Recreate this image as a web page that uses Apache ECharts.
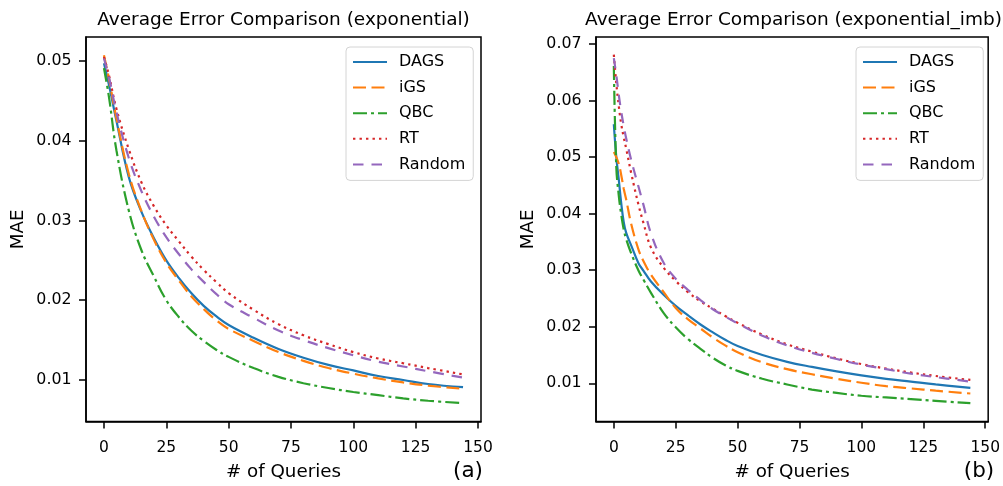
<!DOCTYPE html>
<html><head><meta charset="utf-8">
<script src="https://cdn.jsdelivr.net/npm/echarts@6/dist/echarts.min.js"></script>
<style>html,body{margin:0;padding:0;background:#fff}#c{width:1003px;height:486px}</style>
</head><body><div id="c"></div>
<script>
// ---------- data ----------
const seriesNames = ['DAGS', 'iGS', 'QBC', 'RT', 'Random'];
const titleA = 'Average Error Comparison (exponential)';
const titleB = 'Average Error Comparison (exponential_imb)';
const xTicks = [0, 25, 50, 75, 100, 125, 150];
const yTicksA = [0.01, 0.02, 0.03, 0.04, 0.05];
const yTicksB = [0.01, 0.02, 0.03, 0.04, 0.05, 0.06, 0.07];

const queriesA = [0, 2, 5, 10, 15, 20, 25, 30, 35, 40, 45, 50, 60, 70, 80, 90, 100, 110, 120, 130, 144];
const dagsA   = [0.0497, 0.0470, 0.0425, 0.0354, 0.0311, 0.0278, 0.0250, 0.0228, 0.0209, 0.0193, 0.0180, 0.0169, 0.0153, 0.0139, 0.0128, 0.0119, 0.0112, 0.0105, 0.0100, 0.0095, 0.0091];
const igsA    = [0.0507, 0.0478, 0.0428, 0.0358, 0.0312, 0.0276, 0.0247, 0.0225, 0.0205, 0.0189, 0.0175, 0.0164, 0.0149, 0.0135, 0.0124, 0.0115, 0.0108, 0.0102, 0.0097, 0.0093, 0.0089];
const qbcA    = [0.0491, 0.0455, 0.0388, 0.0312, 0.0263, 0.0230, 0.0200, 0.0179, 0.0162, 0.0149, 0.0138, 0.0129, 0.0115, 0.0104, 0.0096, 0.0090, 0.0085, 0.0081, 0.0077, 0.0074, 0.0071];
const rtA     = [0.0505, 0.0482, 0.0440, 0.0389, 0.0348, 0.0318, 0.0294, 0.0274, 0.0255, 0.0238, 0.0223, 0.0209, 0.0188, 0.0170, 0.0156, 0.0145, 0.0135, 0.0127, 0.0121, 0.0115, 0.0107];
const randomA = [0.0503, 0.0480, 0.0436, 0.0378, 0.0337, 0.0305, 0.0279, 0.0258, 0.0239, 0.0223, 0.0208, 0.0195, 0.0178, 0.0162, 0.0150, 0.0140, 0.0131, 0.0123, 0.0117, 0.0111, 0.0103];

const queriesB = [0, 1, 2, 3, 4, 5, 7, 10, 12, 15, 20, 25, 30, 35, 40, 45, 50, 60, 70, 80, 90, 100, 110, 120, 130, 144];
const dagsB   = [0.0558, 0.0500, 0.0460, 0.0418, 0.0385, 0.0366, 0.0344, 0.0312, 0.0299, 0.0280, 0.0257, 0.0237, 0.0220, 0.0204, 0.0190, 0.0177, 0.0166, 0.0150, 0.0138, 0.0129, 0.0121, 0.0114, 0.0108, 0.0103, 0.0098, 0.0092];
const igsB    = [0.0509, 0.0500, 0.0488, 0.0468, 0.0444, 0.0425, 0.0382, 0.0336, 0.0316, 0.0292, 0.0262, 0.0233, 0.0213, 0.0197, 0.0181, 0.0167, 0.0155, 0.0137, 0.0125, 0.0116, 0.0108, 0.0101, 0.0095, 0.0091, 0.0087, 0.0082];
const qbcB    = [0.0661, 0.0482, 0.0432, 0.0398, 0.0372, 0.0355, 0.0330, 0.0299, 0.0283, 0.0260, 0.0225, 0.0199, 0.0178, 0.0161, 0.0145, 0.0132, 0.0122, 0.0108, 0.0098, 0.0089, 0.0083, 0.0078, 0.0075, 0.0072, 0.0069, 0.0065];
const rtB     = [0.0681, 0.0630, 0.0590, 0.0558, 0.0535, 0.0515, 0.0472, 0.0415, 0.0383, 0.0340, 0.0305, 0.0281, 0.0261, 0.0245, 0.0232, 0.0219, 0.0207, 0.0186, 0.0169, 0.0156, 0.0144, 0.0134, 0.0126, 0.0119, 0.0113, 0.0106];
const randomB = [0.0675, 0.0645, 0.0610, 0.0580, 0.0555, 0.0533, 0.0495, 0.0447, 0.0415, 0.0365, 0.0314, 0.0285, 0.0265, 0.0247, 0.0231, 0.0218, 0.0206, 0.0184, 0.0167, 0.0154, 0.0143, 0.0133, 0.0125, 0.0117, 0.0111, 0.0103];

// ---------- styles ----------
const FONT = '"DejaVu Sans", "Noto Sans", sans-serif';
const styles = {
  DAGS:   { color: '#1f77b4', type: 'solid' },
  iGS:    { color: '#ff7f0e', type: [13, 5.5] },
  QBC:    { color: '#2ca02c', type: [14, 4, 3, 4] },
  RT:     { color: '#d62728', type: [2.4, 4.1] },
  Random: { color: '#9467bd', type: [10.5, 8] }
};

function pairs(xs, ys) { return xs.map((x, i) => [x, ys[i]]); }
function mkSeries(name, xs, ys, idx) {
  const s = styles[name];
  return {
    name, type: 'line', xAxisIndex: idx, yAxisIndex: idx,
    data: pairs(xs, ys), symbol: 'none', smooth: 0.4,
    lineStyle: { color: s.color, width: 2.2, type: s.type },
    itemStyle: { color: s.color },
    animation: false
  };
}

const axisLineStyle = { color: '#000', width: 1.5 };
function xAxis(idx) {
  return {
    type: 'value', gridIndex: idx, min: -7.2, max: 151.2, position: 'bottom',
    name: '# of Queries', nameLocation: 'middle', nameGap: 41.5,
    nameTextStyle: { fontFamily: FONT, fontSize: 18.3, color: '#000' },
    axisLine: { show: true, onZero: false, lineStyle: axisLineStyle },
    splitLine: { show: false },
    axisTick: { show: true, length: 7, inside: false, customValues: xTicks, lineStyle: axisLineStyle },
    axisLabel: { customValues: xTicks, margin: 18, fontFamily: FONT, fontSize: 15.5, color: '#000', formatter: v => String(v) }
  };
}
function yAxis(idx, min, max, ticks) {
  return {
    type: 'value', gridIndex: idx, min, max, position: 'left', offset: 0, z: 5,
    name: 'MAE', nameLocation: 'middle', nameGap: 59,
    nameTextStyle: { fontFamily: FONT, fontSize: 18.3, color: '#000' },
    axisLine: { show: true, onZero: false, lineStyle: axisLineStyle },
    splitLine: { show: false },
    axisTick: { show: true, length: 7, inside: false, customValues: ticks, lineStyle: axisLineStyle },
    axisLabel: { customValues: ticks, margin: 14.5, fontFamily: FONT, fontSize: 15.8, color: '#000', formatter: v => v.toFixed(2) }
  };
}
function legend(left) {
  return {
    data: seriesNames, orient: 'vertical', left, top: 47,
    itemWidth: 34, itemHeight: 14, itemGap: 9.6,
    padding: [7, 8, 8, 6],
    borderColor: '#d4d4d4', borderWidth: 1, borderRadius: 4,
    backgroundColor: 'rgba(255,255,255,0.8)',
    itemStyle: { opacity: 0 },
    textStyle: { fontFamily: FONT, fontSize: 16, color: '#000', padding: [0, 0, 0, 7] },
    selectedMode: false
  };
}

const chart = echarts.init(document.getElementById('c'), null, { renderer: 'canvas' });
chart.setOption({
  backgroundColor: '#fff',
  animation: false,
  grid: [
    { left: 86, top: 37, width: 395, height: 386, show: true, borderColor: '#000', borderWidth: 1.5, backgroundColor: 'transparent' },
    { left: 596, top: 37, width: 395, height: 386, show: true, borderColor: '#000', borderWidth: 1.5, backgroundColor: 'transparent' }
  ],
  xAxis: [xAxis(0), xAxis(1)],
  yAxis: [yAxis(0, 0.0048, 0.0530, yTicksA), yAxis(1, 0.00325, 0.07123, yTicksB)],
  legend: [legend(346), legend(856)],
  series: [
    mkSeries('DAGS', queriesA, dagsA, 0),
    mkSeries('iGS', queriesA, igsA, 0),
    mkSeries('QBC', queriesA, qbcA, 0),
    mkSeries('RT', queriesA, rtA, 0),
    mkSeries('Random', queriesA, randomA, 0),
    mkSeries('DAGS', queriesB, dagsB, 1),
    mkSeries('iGS', queriesB, igsB, 1),
    mkSeries('QBC', queriesB, qbcB, 1),
    mkSeries('RT', queriesB, rtB, 1),
    mkSeries('Random', queriesB, randomB, 1)
  ],
  graphic: [
    { type: 'text', x: 283.5, y: 20, style: { text: titleA, fontFamily: FONT, fontSize: 18.5, fill: '#000', align: 'center', verticalAlign: 'middle' } },
    { type: 'text', x: 793.5, y: 20, style: { text: titleB, fontFamily: FONT, fontSize: 18.5, fill: '#000', align: 'center', verticalAlign: 'middle' } },
    { type: 'text', x: 468, y: 471, style: { text: '(a)', fontFamily: FONT, fontSize: 21.5, fill: '#000', align: 'center', verticalAlign: 'middle' } },
    { type: 'text', x: 979, y: 471, style: { text: '(b)', fontFamily: FONT, fontSize: 21.5, fill: '#000', align: 'center', verticalAlign: 'middle' } }
  ]
});
</script></body></html>
